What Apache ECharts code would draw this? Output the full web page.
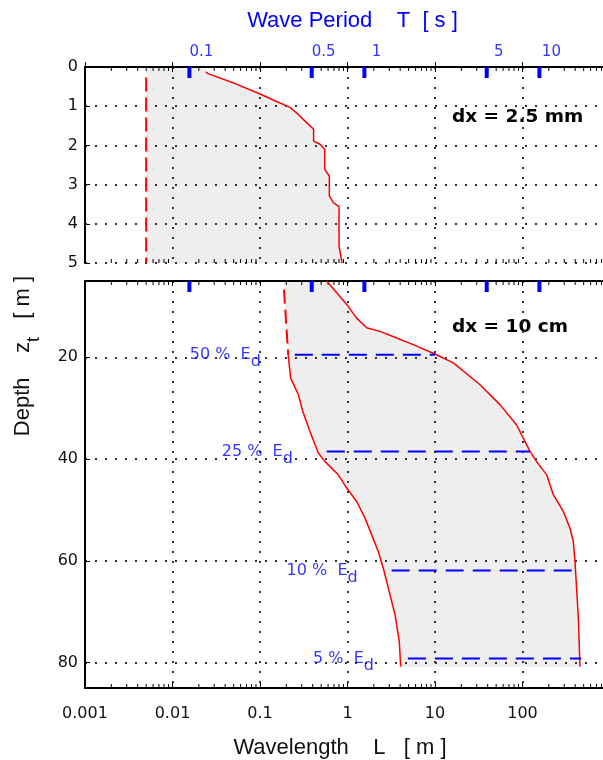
<!DOCTYPE html>
<html>
<head>
<meta charset="utf-8">
<script src="https://cdn.jsdelivr.net/npm/echarts@6.0.0/dist/echarts.min.js"></script>
<style>
html,body{margin:0;padding:0;background:#ffffff;}
#chart{width:603px;height:760px;}
</style>
</head>
<body>
<div id="chart"></div>
<script>
// ---------------- data ----------------
// top (wave period) axis: tick labels and the wavelength they sit at
const periodTicks = ['0.1', '0.5', '1', '5', '10'];
const periodTickL = [0.0156, 0.39, 1.56, 39.0, 156];

// upper panel (dx = 2.5 mm), depth 0..5 m
const shallowMinL = 0.005;
const shallowMinDepth = [0.27, 5];
const shallowMaxDepth = [0.12, 0.17, 0.40, 0.69, 0.88, 1.03, 1.20, 1.33, 1.59, 1.89, 1.97, 2.10, 2.61, 2.78, 3.29, 3.46, 3.56, 4.57, 4.95, 5.0];
const shallowMaxL     = [0.024, 0.0255, 0.049, 0.10, 0.155, 0.22, 0.27, 0.31, 0.41, 0.41, 0.485, 0.55, 0.55, 0.62, 0.62, 0.69, 0.80, 0.80, 0.86, 0.86];

// lower panel (dx = 10 cm), depth 5..85 m
const deepMinDepth = [6.7, 19.5, 24.1, 27.3, 30.6, 34.6, 38.8, 40.5, 43.1, 45.7, 48.3, 51.6, 54.9, 58.2, 61.5, 66.7, 70.6, 75.9, 80.8];
const deepMinL     = [0.188, 0.21, 0.224, 0.274, 0.308, 0.372, 0.464, 0.553, 0.785, 0.98, 1.27, 1.585, 1.89, 2.25, 2.57, 3.06, 3.49, 3.91, 4.05];
const deepResolvedDepth = 19.5;
const deepMaxDepth = [5.0, 9.6, 12.3, 14.2, 14.9, 16.2, 17.5, 19.4, 21.1, 25.4, 29.3, 33.3, 35.9, 38.5, 40.5, 43.1, 47.0, 50.3, 53.6, 56.2, 60.1, 71.3, 80.8];
const deepMaxL     = [0.578, 0.98, 1.27, 1.66, 2.35, 3.65, 5.65, 10.1, 16.2, 32.7, 55.3, 85.8, 102, 122, 145, 189, 225, 293, 349, 381, 398, 435, 454];

// energy-dissipation levels
const edLevels = ['50 %', '25 %', '10 %', '5 %'];
const edDepth  = [19.5, 38.5, 61.9, 79.2];
const edFromL  = [0.25, 0.58, 3.2, 4.9];
const edToL    = [10.0, 122, 365, 470];

const shallowRange = [0, 5];
const deepRange = [5, 85];
const xRange = [0.001, 1000];

// ---------------- styles ----------------
const RED = '#ff0000', BLUE = '#0000ff', INK = '#111111';
const FT = 'DejaVu Sans', FN = 'Liberation Sans';
const dotted = { color: '#333333', width: 2, type: [2, 8] };
const zip = (a, b) => a.map((v, i) => [v, b[i]]);

const shallowMaxPts = zip(shallowMaxL, shallowMaxDepth);
const shallowMinPts = shallowMinDepth.map(d => [shallowMinL, d]);
const deepMinPts = zip(deepMinL, deepMinDepth);
const deepMaxPts = zip(deepMaxL, deepMaxDepth);
const deepMinDashed = deepMinPts.filter(p => p[1] <= deepResolvedDepth);
const deepMinSolid = deepMinPts.filter(p => p[1] >= deepResolvedDepth);

const shallowFill = [[shallowMinL, shallowRange[0]], [shallowMinL, shallowRange[1]]]
  .concat(shallowMaxPts.slice().reverse(), [[shallowMaxL[0], shallowRange[0]]]);
const deepFill = [[deepMinL[0], deepRange[0]]].concat(deepMinPts, deepMaxPts.slice().reverse());

// log minor tick positions (2..9 x each decade) for the frame decoration
const minorTickValues = [];
for (let e = Math.log10(xRange[0]); e < Math.log10(xRange[1]); e++) {
  for (let m = 2; m <= 9; m++) minorTickValues.push(m * Math.pow(10, e));
}

function fillSeries(gi, pts) {
  return {
    type: 'custom', xAxisIndex: gi * 2, yAxisIndex: gi, z: 0, silent: true, data: pts,
    renderItem: function (params, api) {
      if (params.dataIndex !== 0) return null;
      return { type: 'polygon', shape: { points: pts.map(p => api.coord(p)) }, style: { fill: '#eeeeee' } };
    }
  };
}
function minorTickSeries(gi, range) {
  const items = [];
  minorTickValues.forEach(v => { items.push([v, range[0], 1]); items.push([v, range[1], -1]); });
  return {
    type: 'custom', xAxisIndex: gi * 2, yAxisIndex: gi, z: 3, silent: true, clip: false, data: items,
    renderItem: function (params, api) {
      const p = api.coord([api.value(0), api.value(1)]);
      const dir = api.value(2);
      return { type: 'line', shape: { x1: p[0], y1: p[1], x2: p[0], y2: p[1] + dir * 4 },
        style: { stroke: '#000', lineWidth: 1 } };
    }
  };
}
function lineSeries(gi, pts, color, width, type) {
  return {
    type: 'line', xAxisIndex: gi * 2, yAxisIndex: gi, data: pts, symbol: 'none', silent: true,
    lineStyle: { color: color, width: width, type: type }
  };
}
function xAxisPair(gi, showLabels) {
  const common = {
    gridIndex: gi, type: 'log', logBase: 10, min: xRange[0], max: xRange[1], z: 1,
    axisLine: { show: true, lineStyle: { color: '#000', width: 2 } },
    axisTick: { show: true, inside: true, length: 5, lineStyle: { color: '#000', width: 1 } },
  };
  const bottom = Object.assign({}, common, {
    position: 'bottom',
    splitLine: { show: true, lineStyle: dotted },
    axisLabel: { show: showLabels, margin: 18, color: INK, fontFamily: FT, fontSize: 16,
      showMaxLabel: false, formatter: v => String(+v.toPrecision(3)) }
  });
  if (showLabels) {
    bottom.name = 'Wavelength    L   [ m ]';
    bottom.nameLocation = 'middle';
    bottom.nameGap = 49;
    bottom.nameTextStyle = { color: INK, fontFamily: FN, fontSize: 22, padding: [0, 15, 0, 0] };
  }
  const top = Object.assign({}, common, {
    position: 'top', splitLine: { show: false }, axisLabel: { show: false }
  });
  if (gi === 0) {
    top.name = 'Wave Period    T  [ s ]';
    top.nameLocation = 'middle';
    top.nameGap = 35;
    top.nameTextStyle = { color: BLUE, fontFamily: FN, fontSize: 22, padding: [0, 0, 0, 10] };
  }
  return [bottom, top];
}
function yAxisFor(gi, range, opts) {
  return Object.assign({
    gridIndex: gi, type: 'value', inverse: true, min: range[0], max: range[1], z: 1,
    axisLine: { show: true, lineStyle: { color: '#000', width: 2 } },
    axisTick: { show: true, inside: true, length: 5, lineStyle: { color: '#000' } },
    axisLabel: { margin: 7, color: INK, fontFamily: FT, fontSize: 16 },
    splitLine: { show: true, lineStyle: dotted }
  }, opts);
}

const series = [
  fillSeries(0, shallowFill),
  fillSeries(1, deepFill),
  lineSeries(0, shallowMinPts, RED, 2, [14, 6]),
  lineSeries(0, shallowMaxPts, RED, 1.5, 'solid'),
  lineSeries(1, deepMinDashed, RED, 2, [14, 6]),
  lineSeries(1, deepMinSolid, RED, 1.5, 'solid'),
  lineSeries(1, deepMaxPts, RED, 1.5, 'solid'),
  minorTickSeries(0, shallowRange),
  minorTickSeries(1, deepRange)
];
edLevels.forEach((lv, i) => {
  series.push(lineSeries(1, [[edFromL[i], edDepth[i]], [edToL[i], edDepth[i]]], BLUE, 2, [18, 9]));
});
series.push({
  type: 'scatter', xAxisIndex: 2, yAxisIndex: 1, silent: true, symbolSize: 0,
  data: edFromL.map((L, i) => [L, edDepth[i]]),
  label: {
    show: true, position: 'left', distance: 34, color: BLUE, fontFamily: FT, fontSize: 16,
    formatter: p => edLevels[p.dataIndex] + '  E{d|d}',
    rich: { d: { color: BLUE, fontFamily: FT, fontSize: 16, padding: [14, 0, 0, 0] } }
  }
});
[0, 1].forEach(gi => {
  const yMin = gi === 0 ? shallowRange[0] : deepRange[0];
  series.push({
    type: 'scatter', xAxisIndex: gi * 2, yAxisIndex: gi, silent: true, z: 4,
    symbol: 'rect', symbolSize: [4, 11], symbolOffset: [0, 5.5],
    itemStyle: { color: BLUE, opacity: 1 },
    data: periodTickL.map(L => [L, yMin])
  });
});
series.push({
  type: 'scatter', xAxisIndex: 0, yAxisIndex: 0, silent: true, symbolSize: 0,
  data: periodTickL.map(L => [L, shallowRange[0]]),
  label: {
    show: true, position: 'top', distance: 7, offset: [12, 0], color: BLUE, fontFamily: FT, fontSize: 15,
    formatter: p => periodTicks[p.dataIndex]
  }
});

const option = {
  animation: false,
  backgroundColor: '#ffffff',
  grid: [
    { left: 85, right: -7, top: 67, height: 196, outerBoundsMode: 'none', containLabel: false },
    { left: 85, right: -7, top: 281, height: 407, outerBoundsMode: 'none', containLabel: false }
  ],
  xAxis: xAxisPair(0, false).concat(xAxisPair(1, true)),
  yAxis: [
    yAxisFor(0, shallowRange, { interval: 1 }),
    yAxisFor(1, deepRange, { splitNumber: 4, axisLabel: { margin: 7, color: INK, fontFamily: FT, fontSize: 16, showMinLabel: false, showMaxLabel: false } })
  ],
  graphic: [
    { type: 'text', x: 452, y: 117, silent: true,
      style: { text: 'dx = 2.5 mm', fill: '#000', font: 'bold 18.5px "DejaVu Sans"', align: 'left', verticalAlign: 'middle' } },
    { type: 'text', x: 452, y: 327, silent: true,
      style: { text: 'dx = 10 cm', fill: '#000', font: 'bold 18.5px "DejaVu Sans"', align: 'left', verticalAlign: 'middle' } },
    { type: 'text', x: 23, y: 356, rotation: Math.PI / 2, silent: true,
      style: { text: 'Depth    z{t|t}   [ m ]', fill: INK, font: '22px "Liberation Sans"', align: 'center', verticalAlign: 'middle',
        rich: { t: { fill: INK, font: '18px "Liberation Sans"', padding: [22, 0, 0, 0] } } } }
  ],
  series: series
};
const chart = echarts.init(document.getElementById('chart'), null, { renderer: 'canvas' });
chart.setOption(option);
</script>
</body>
</html>
